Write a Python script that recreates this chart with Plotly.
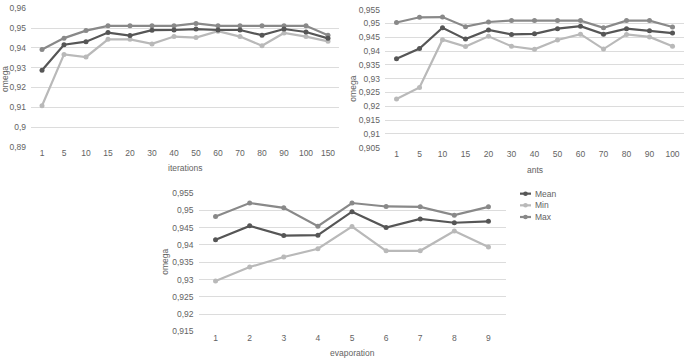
import plotly.graph_objects as go

# ---------------- data ----------------
iterations = ["1", "5", "10", "15", "20", "30", "40", "50", "60", "70", "80", "90", "100", "150"]
iter_mean = [0.9287, 0.9416, 0.9431, 0.9477, 0.9462, 0.9489, 0.9490, 0.9495, 0.9490, 0.9490, 0.9464, 0.9495, 0.9480, 0.9448]
iter_min = [0.9108, 0.9367, 0.9354, 0.9443, 0.9443, 0.9420, 0.9457, 0.9452, 0.9484, 0.9457, 0.9411, 0.9475, 0.9457, 0.9433]
iter_max = [0.9392, 0.9449, 0.9487, 0.9511, 0.9511, 0.9511, 0.9511, 0.9523, 0.9511, 0.9511, 0.9511, 0.9511, 0.9511, 0.9464]

ants = ["1", "5", "10", "15", "20", "30", "40", "50", "60", "70", "80", "90", "100"]
ants_mean = [0.9372, 0.9409, 0.9484, 0.9443, 0.9476, 0.9460, 0.9462, 0.9481, 0.9490, 0.9461, 0.9481, 0.9473, 0.9465]
ants_min = [0.9226, 0.9268, 0.9441, 0.9416, 0.9453, 0.9417, 0.9406, 0.9440, 0.9461, 0.9407, 0.9460, 0.9451, 0.9417]
ants_max = [0.9503, 0.9522, 0.9523, 0.9488, 0.9505, 0.9510, 0.9510, 0.9510, 0.9510, 0.9484, 0.9510, 0.9510, 0.9487]

evaporation = ["1", "2", "3", "4", "5", "6", "7", "8", "9"]
evap_mean = [0.9415, 0.9455, 0.9427, 0.9428, 0.9496, 0.9450, 0.9475, 0.9464, 0.9468]
evap_min = [0.9296, 0.9336, 0.9365, 0.9389, 0.9453, 0.9383, 0.9383, 0.9440, 0.9394]
evap_max = [0.9482, 0.9521, 0.9507, 0.9454, 0.9521, 0.9511, 0.9510, 0.9486, 0.9510]

ticks_iter = [0.89, 0.90, 0.91, 0.92, 0.93, 0.94, 0.95, 0.96]
ticks_ants = [0.905, 0.91, 0.915, 0.92, 0.925, 0.93, 0.935, 0.94, 0.945, 0.95, 0.955]
ticks_evap = [0.915, 0.92, 0.925, 0.93, 0.935, 0.94, 0.945, 0.95, 0.955]

series_names = ["Mean", "Min", "Max"]
colors = {"Mean": "#565656", "Min": "#b9b9b9", "Max": "#898989"}

W, H = 685, 363
FONT = "Liberation Sans"
TXT = "#636363"
GRID = "#dcdcdc"
FS = 8.5


def lbl(v):
    s = ("%.3f" % v).rstrip("0").rstrip(".")
    return s.replace(".", ",")


fig = go.Figure()

panels = [
    ("", iterations, [iter_mean, iter_min, iter_max]),
    ("2", ants, [ants_mean, ants_min, ants_max]),
    ("3", evaporation, [evap_mean, evap_min, evap_max]),
]
order = ["Max", "Min", "Mean"]
for suffix, cats, vals in panels:
    d = dict(zip(series_names, vals))
    for name in order:
        fig.add_trace(go.Scatter(
            x=cats, y=d[name], name=name, mode="lines+markers",
            line=dict(color=colors[name], width=2.2),
            marker=dict(color=colors[name], size=5, symbol="circle"),
            xaxis="x" + suffix, yaxis="y" + suffix, showlegend=False,
        ))


def px_dom_x(a, b):
    return [a / W, b / W]


def px_dom_y(top, bottom):
    return [1 - bottom / H, 1 - top / H]


common_x = dict(type="category", showgrid=False, zeroline=False, showline=False,
                ticks="", tickfont=dict(family=FONT, size=FS, color=TXT), fixedrange=True)
common_y = dict(showgrid=True, gridcolor=GRID, gridwidth=1, zeroline=False, showline=False,
                ticks="", tickfont=dict(family=FONT, size=FS, color=TXT), ticklabelstandoff=4,
                fixedrange=True)

fig.update_layout(
    width=W, height=H,
    margin=dict(l=0, r=0, t=0, b=0),
    paper_bgcolor="white", plot_bgcolor="white",
    showlegend=False,
    xaxis=dict(common_x, domain=px_dom_x(31, 339), range=[-0.5, len(iterations) - 0.5], anchor="y"),
    yaxis=dict(common_y, domain=px_dom_y(3.3, 146), range=[0.89, 0.96], anchor="x",
               tickvals=ticks_iter, ticktext=[lbl(v) for v in ticks_iter]),
    xaxis2=dict(common_x, domain=px_dom_x(385, 684), range=[-0.5, len(ants) - 0.5], anchor="y2"),
    yaxis2=dict(common_y, domain=px_dom_y(4.7, 146.7), range=[0.905, 0.955], anchor="x2",
                tickvals=ticks_ants, ticktext=[lbl(v) for v in ticks_ants]),
    xaxis3=dict(common_x, domain=px_dom_x(198.5, 505.5), range=[-0.5, len(evaporation) - 0.5], anchor="y3"),
    yaxis3=dict(common_y, domain=px_dom_y(193.3, 335.7), range=[0.915, 0.955], anchor="x3",
                tickvals=ticks_evap, ticktext=[lbl(v) for v in ticks_evap]),
)

# axis titles
titles = [
    ("iterations", 185 / W, 1 - 168 / H, 0),
    ("ants", 535 / W, 1 - 170 / H, 0),
    ("evaporation", 352 / W, 1 - 358 / H, 0),
    ("omega", 5 / W, 1 - 76 / H, -90),
    ("omega", 353 / W, 1 - 86 / H, -90),
    ("omega", 165 / W, 1 - 264 / H, -90),
]
for t, x, y, ang in titles:
    fig.add_annotation(text=t, x=x, y=y, xref="paper", yref="paper", showarrow=False,
                       textangle=ang, font=dict(family=FONT, size=FS, color=TXT),
                       xanchor="center", yanchor="middle")

# custom legend
leg_x0, leg_x1 = 520, 531
for i, name in enumerate(series_names):
    yy = 194 + 12 * i
    fig.add_shape(type="line", xref="paper", yref="paper",
                  x0=leg_x0 / W, x1=leg_x1 / W, y0=1 - yy / H, y1=1 - yy / H,
                  line=dict(color=colors[name], width=2.2))
    cx = (leg_x0 + leg_x1) / 2
    fig.add_shape(type="circle", xref="paper", yref="paper",
                  x0=(cx - 2.3) / W, x1=(cx + 2.3) / W, y0=1 - (yy + 2.3) / H, y1=1 - (yy - 2.3) / H,
                  fillcolor=colors[name], line=dict(width=0))
    fig.add_annotation(text=name, x=(leg_x1 + 2) / W, y=1 - yy / H, xref="paper", yref="paper",
                       showarrow=False, xanchor="left", yanchor="middle",
                       font=dict(family=FONT, size=FS, color=TXT))

fig.write_html(
    "out.html",
    config={"displayModeBar": False, "staticPlot": True},
    post_script="document.body.style.margin='0';document.body.style.padding='0';"
                "document.documentElement.style.overflow='hidden';",
)
